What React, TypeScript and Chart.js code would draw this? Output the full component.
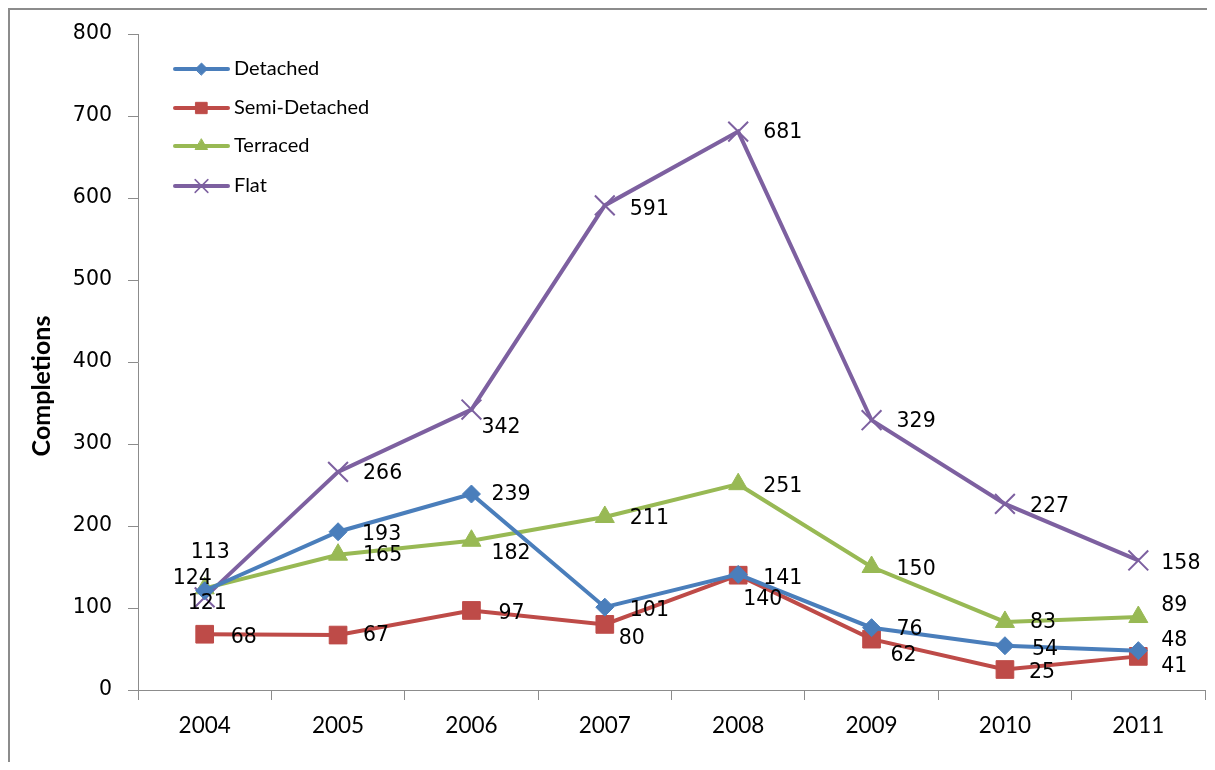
import React, { useEffect, useRef } from "react";
import { Chart, registerables } from "chart.js";
import { drawPoint } from "chart.js/helpers";

Chart.register(...registerables);

// ---- data ----
const years = ["2004", "2005", "2006", "2007", "2008", "2009", "2010", "2011"];
const detached = [121, 193, 239, 101, 141, 76, 54, 48];
const semiDetached = [68, 67, 97, 80, 140, 62, 25, 41];
const terraced = [124, 165, 182, 211, 251, 150, 83, 89];
const flat = [113, 266, 342, 591, 681, 329, 227, 158];
const seriesNames = ["Detached", "Semi-Detached", "Terraced", "Flat"];
const yAxisTitle = "Completions";

// ---- styles ----
const COLORS = ["#4A7EBB", "#BE4B48", "#98B954", "#7D60A0"];
const POINT_STYLES = ["rectRot", "rect", "triangle", "crossRot"];
const POINT_RADII = [9, 12.5, 11, 14];
const LEGEND_RADII = [6, 8, 7, 9];

// label offsets [dx, dy] from each point (label drawn left-aligned, middle)
const LABEL_OFFSETS: number[][][] = [
  [[-17, 13], [24, 3], [20, 1], [25, 3], [25, 4], [25, 2], [27, 4], [23, -10]],
  [[26, 3], [25, 1], [27, 3], [14, 14], [5, 24], [19, 17], [24, 3], [23, 10]],
  [[-32, -10], [25, 1], [20, 13], [25, 2], [25, 2], [25, 3], [25, 1], [23, -11]],
  [[-14, -45], [25, 2], [10, 18], [25, 4], [25, 1], [25, 1], [25, 3], [23, 3]],
];

const labelPlugin = {
  id: "dataLabels",
  afterDatasetsDraw(chart: any) {
    const ctx = chart.ctx;
    ctx.save();
    ctx.font = "20.5px 'DejaVu Sans'";
    ctx.fillStyle = "#000";
    ctx.textAlign = "left";
    ctx.textBaseline = "middle";
    chart.data.datasets.forEach((ds: any, i: number) => {
      const meta = chart.getDatasetMeta(i);
      meta.data.forEach((pt: any, j: number) => {
        const [dx, dy] = LABEL_OFFSETS[i][j];
        ctx.fillText(String(ds.data[j]), pt.x + dx, pt.y + dy);
      });
    });
    ctx.restore();
  },
};

const axisTitlePlugin = {
  id: "yTitle",
  afterDraw(chart: any) {
    const ctx = chart.ctx;
    const a = chart.chartArea;
    ctx.save();
    ctx.translate(a.left - 96, (a.top + a.bottom) / 2 + 24);
    ctx.rotate(-Math.PI / 2);
    ctx.font = "bold 25px Lato";
    ctx.fillStyle = "#000";
    ctx.textAlign = "center";
    ctx.textBaseline = "middle";
    ctx.fillText(yAxisTitle, 0, 0);
    ctx.restore();
  },
};

const legendPlugin = {
  id: "insideLegend",
  afterDraw(chart: any) {
    const ctx = chart.ctx;
    const a = chart.chartArea;
    ctx.save();
    const rows = [35, 74, 112, 152];
    chart.data.datasets.forEach((ds: any, i: number) => {
      const y = a.top + rows[i];
      const x0 = a.left + 37;
      const x1 = a.left + 90;
      ctx.strokeStyle = COLORS[i];
      ctx.lineWidth = 4;
      ctx.lineCap = "round";
      ctx.beginPath();
      ctx.moveTo(x0, y);
      ctx.lineTo(x1, y);
      ctx.stroke();
      ctx.fillStyle = COLORS[i];
      ctx.strokeStyle = COLORS[i];
      ctx.lineWidth = POINT_STYLES[i] === "crossRot" ? 1.5 : 1;
      drawPoint(
        ctx,
        {
          pointStyle: POINT_STYLES[i] as any,
          radius: LEGEND_RADII[i],
          rotation: 0,
          borderWidth: POINT_STYLES[i] === "crossRot" ? 1.5 : 1,
        } as any,
        (x0 + x1) / 2,
        y
      );
      ctx.fillStyle = "#000";
      ctx.font = "20px Lato";
      ctx.textAlign = "left";
      ctx.textBaseline = "middle";
      ctx.fillText(seriesNames[i], a.left + 96, y);
    });
    ctx.restore();
  },
};

export default function App() {
  const ref = useRef<HTMLCanvasElement>(null);

  useEffect(() => {
    const all = [detached, semiDetached, terraced, flat];
    const chart = new Chart(ref.current!, {
      type: "line",
      data: {
        labels: years,
        datasets: all.map((d, i) => ({
          label: seriesNames[i],
          data: d,
          borderColor: COLORS[i],
          backgroundColor: COLORS[i],
          borderWidth: 4,
          pointStyle: POINT_STYLES[i] as any,
          pointRadius: POINT_RADII[i],
          pointBorderWidth: POINT_STYLES[i] === "crossRot" ? 2 : 1,
          pointBorderColor: COLORS[i],
          pointBackgroundColor: COLORS[i],
          tension: 0,
        })),
      },
      options: {
        responsive: false,
        animation: false,
        layout: {
          autoPadding: false,
          padding: { left: 0, top: 24, right: 8, bottom: 0 },
        },
        plugins: {
          legend: { display: false },
          tooltip: { enabled: false },
        },
        scales: {
          x: {
            offset: true,
            grid: {
              offset: true,
              drawOnChartArea: false,
              drawTicks: true,
              tickLength: 10,
              color: "#8c8c8c",
            },
            border: { display: true, color: "#8c8c8c", width: 1 },
            ticks: {
              color: "#000",
              font: { family: "Lato", size: 22.5 },
              padding: 12,
              maxRotation: 0,
            },
            afterFit(scale: any) {
              scale.height = 72;
              scale.paddingLeft = 0;
              scale.paddingRight = 0;
            },
          },
          y: {
            min: 0,
            max: 800,
            ticks: {
              stepSize: 100,
              color: "#000",
              font: { family: "DejaVu Sans", size: 20.5 },
              padding: 16,
            },
            grid: {
              drawOnChartArea: false,
              drawTicks: true,
              tickLength: 10,
              color: "#8c8c8c",
            },
            border: { display: true, color: "#8c8c8c", width: 1 },
            title: { display: false },
            afterFit(scale: any) {
              scale.width = 128;
              scale.paddingTop = 0;
              scale.paddingBottom = 0;
            },
          },
        },
      },
      plugins: [labelPlugin, legendPlugin, axisTitlePlugin],
    });
    return () => chart.destroy();
  }, []);

  return (
    <div
      style={{
        position: "relative",
        width: 1207,
        height: 754,
        borderTop: "2px solid #8c8c8c",
        borderLeft: "2px solid #8c8c8c",
        boxSizing: "border-box",
        overflow: "hidden",
        background: "#fff",
      }}
    >
      <canvas ref={ref} width={1203} height={752} style={{ display: "block" }} />
    </div>
  );
}
